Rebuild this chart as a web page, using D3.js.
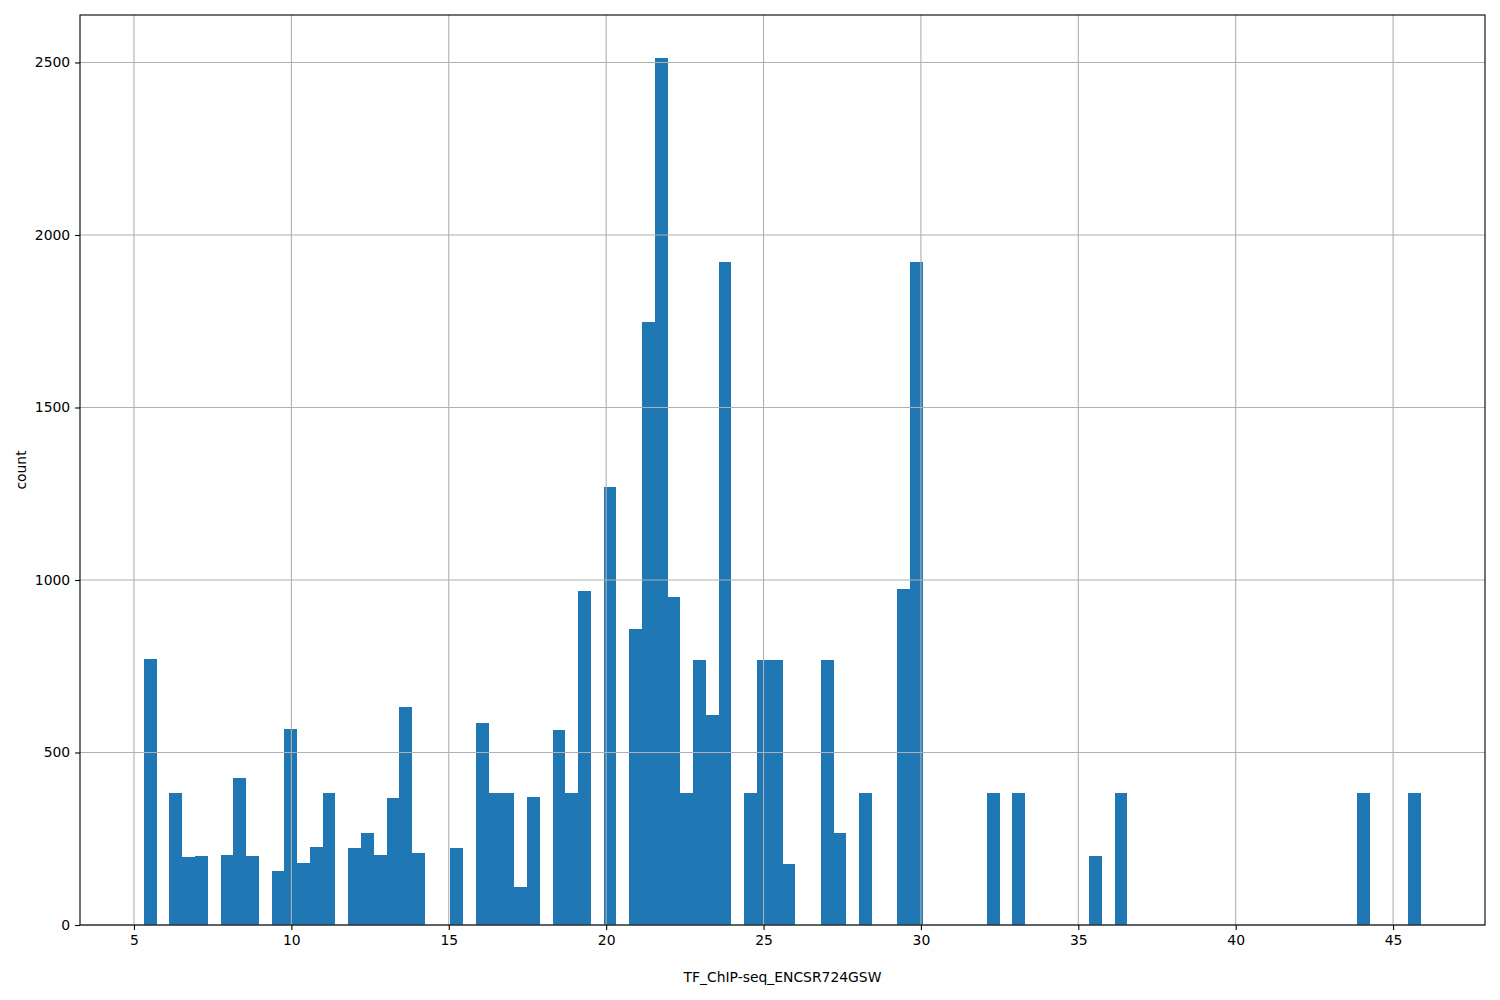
<!DOCTYPE html>
<html><head><meta charset="utf-8">
<script src="https://cdn.jsdelivr.net/npm/d3@7/dist/d3.min.js"></script>
<style>body{margin:0;background:#fff}svg{display:block}text{font-family:"DejaVu Sans",sans-serif}</style>
</head><body>
<svg id="c" width="1500" height="1000"></svg>
<script>
// Histogram definition (100 bins)
const binStart = 5.314;
const binWidth = 0.40577;
const counts = [
 770,0,382,197,200,0,203,426,200,0,
 156,568,180,226,382,0,223,267,203,368,
 632,209,0,0,223,0,585,382,382,110,
 371,0,565,382,968,0,1269,0,857,1747,
 2512,950,382,768,608,1921,0,382,768,768,
 177,0,0,768,267,0,382,0,0,973,
 1921,0,0,0,0,0,382,0,382,0,
 0,0,0,0,200,0,382,0,0,0,
 0,0,0,0,0,0,0,0,0,0,
 0,0,0,0,0,382,0,0,0,382
];
const xTicks = [5,10,15,20,25,30,35,40,45];
const yTicks = [0,500,1000,1500,2000,2500];
const xLabel = "TF_ChIP-seq_ENCSR724GSW";
const yLabel = "count";

const bins = counts.map((c,i)=>({x0: binStart + i*binWidth, x1: binStart + (i+1)*binWidth, c}));
const L=80, R=1485, T=15, B=925;
const dataMin = binStart, dataMax = binStart + counts.length*binWidth;
const pad = 0.05*(dataMax-dataMin);
const x = d3.scaleLinear().domain([dataMin-pad, dataMax+pad]).range([L,R]);
const yMax = d3.max(counts)*1.05;
const y = d3.scaleLinear().domain([0,yMax]).range([B,T]);

const svg = d3.select("#c");
const fs = "13.9px";

// bars
svg.append("g").selectAll("rect").data(bins.filter(b=>b.c>0)).join("rect")
  .attr("x", d=>x(d.x0)).attr("width", d=>x(d.x1)-x(d.x0))
  .attr("y", d=>y(d.c)).attr("height", d=>B-y(d.c))
  .attr("fill","#1f77b4").attr("shape-rendering","crispEdges");

// grid (drawn above patches, as matplotlib)
const grid = svg.append("g").attr("stroke","#b0b0b0").attr("stroke-width",1.1);
xTicks.forEach(t=>grid.append("line").attr("x1",x(t)).attr("x2",x(t)).attr("y1",T).attr("y2",B));
yTicks.forEach(t=>grid.append("line").attr("x1",L).attr("x2",R).attr("y1",y(t)).attr("y2",y(t)));

// axes via d3
const xAxis = d3.axisBottom(x).tickValues(xTicks).tickSize(4.9).tickPadding(4.9).tickFormat(d3.format("d"));
const gx = svg.append("g").attr("transform",`translate(0,${B})`).call(xAxis);
gx.select(".domain").remove();
gx.selectAll("line").attr("stroke","#000").attr("stroke-width",1.1);
gx.selectAll("text").attr("font-size",fs).attr("fill","#000").attr("font-family","DejaVu Sans");

const yAxis = d3.axisLeft(y).tickValues(yTicks).tickSize(4.9).tickPadding(4.9).tickFormat(d3.format("d"));
const gy = svg.append("g").attr("transform",`translate(${L},0)`).call(yAxis);
gy.select(".domain").remove();
gy.selectAll("line").attr("stroke","#000").attr("stroke-width",1.1);
gy.selectAll("text").attr("font-size",fs).attr("fill","#000").attr("font-family","DejaVu Sans");

// spines
svg.append("rect").attr("x",L).attr("y",T).attr("width",R-L).attr("height",B-T)
  .attr("fill","none").attr("stroke","#000").attr("stroke-width",1.1);

// labels
svg.append("text").attr("x",(L+R)/2).attr("y",982).attr("text-anchor","middle")
  .attr("font-size",fs).text(xLabel);
svg.append("text").attr("transform",`translate(26,${(T+B)/2}) rotate(-90)`).attr("text-anchor","middle")
  .attr("font-size",fs).text(yLabel);
</script>
</body></html>
